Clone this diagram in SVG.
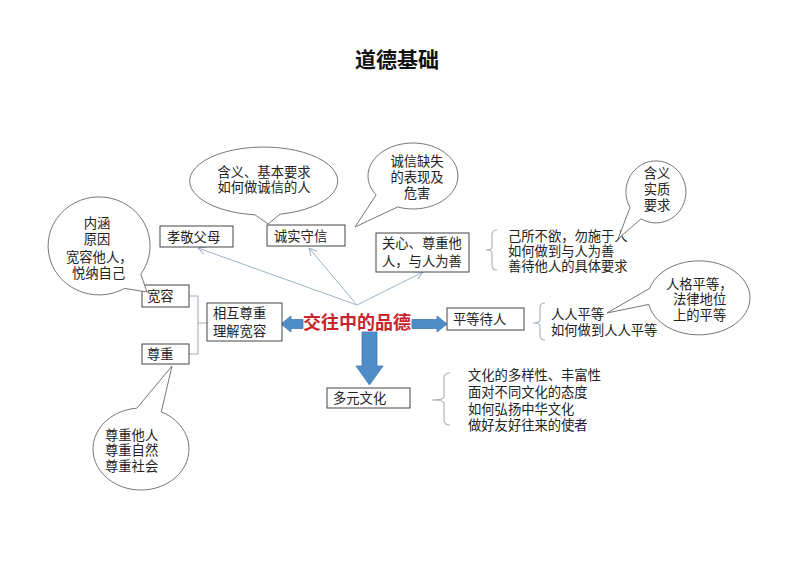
<svg xmlns="http://www.w3.org/2000/svg" width="794" height="561" viewBox="0 0 794 561">
<defs>
<style>
text{font-family:"Liberation Sans","Noto Sans CJK SC",sans-serif;font-size:13.3px;fill:#222}
.title{font-size:21px;font-weight:bold;fill:#111}
.center{font-family:"Liberation Serif","Noto Sans CJK SC",serif;font-size:18px;font-weight:bold;fill:#c8242c}
.box{fill:#fff;stroke:#444;stroke-width:1}
.bubble{fill:#fff;stroke:#777;stroke-width:1}
.thin{fill:none;stroke:#9db3c8;stroke-width:1}
.brace{fill:none;stroke:#a8b0b8;stroke-width:1.1}
.big{fill:#4f8dc9;stroke:#3f7ab5;stroke-width:0.8}
.m{text-anchor:middle}
</style>
<marker id="ah" markerWidth="10" markerHeight="10" refX="8" refY="4" orient="auto" markerUnits="userSpaceOnUse">
<path d="M0,0 L8,4 L0,8" fill="none" stroke="#9db3c8" stroke-width="1"/>
</marker>
</defs>
<rect width="794" height="561" fill="#fff"/>
<text class="title m" x="397" y="67">道德基础</text>

<g id="connectors">
<path class="thin" d="M357,305 L198,248" marker-end="url(#ah)"/>
<path class="thin" d="M357,305 L309,248" marker-end="url(#ah)"/>
<path class="thin" d="M357,305 L423,272" marker-end="url(#ah)"/>
<path class="brace" d="M189,296 H198 V354 H189 M198,323 H207"/>
<polygon class="big" points="281,324 291,316 291,319.5 303,319.5 303,328.5 291,328.5 291,332"/>
<polygon class="big" points="447,324 437,316 437,319.5 412,319.5 412,328.5 437,328.5 437,332"/>
<polygon class="big" points="362,332 377,332 377,366 383,366 369.5,385 356,366 362,366"/>
<path class="brace" d="M497,230 Q492,230 492,235 V247 Q492,250 486,250 Q492,250 492,253 V265 Q492,270 497,270"/>
<path class="brace" d="M545,303 Q540,303 540,308 V320 Q540,323 533,323 Q540,323 540,326 V335 Q540,340 545,340"/>
<path class="brace" d="M450,373 Q444,373 444,378 V397 Q444,400 432,400 Q444,400 444,403 V420 Q444,425 450,425"/>
</g>

<g id="node-center"><text class="center" x="303" y="328.5">交往中的品德</text></g>

<g id="node-xiaojing"><rect class="box" x="160" y="226" width="73" height="21"/><text x="167" y="241.5">孝敬父母</text></g>
<g id="node-chengshi"><rect class="box" x="267" y="225" width="78" height="21"/><text x="274" y="241">诚实守信</text></g>
<g id="node-guanxin"><rect class="box" x="376" y="233" width="93" height="39"/><text x="382" y="248">关心、尊重他</text><text x="382" y="266">人，与人为善</text></g>
<g id="node-kuanrong"><rect class="box" x="142" y="285" width="47" height="22"/><text x="147" y="301">宽容</text></g>
<g id="node-zunzhong"><rect class="box" x="142" y="344" width="47" height="20"/><text x="147" y="359">尊重</text></g>
<g id="node-xianghu"><rect class="box" x="207" y="303" width="75" height="38"/><text x="213" y="318">相互尊重</text><text x="213" y="336">理解宽容</text></g>
<g id="node-pingdeng"><rect class="box" x="447" y="308" width="77" height="22"/><text x="453" y="324">平等待人</text></g>
<g id="node-duoyuan"><rect class="box" x="327" y="388" width="83" height="20"/><text x="333" y="403">多元文化</text></g>

<g id="list-guanxin"><text x="508" y="241">己所不欲，勿施于人</text><text x="508" y="256">如何做到与人为善</text><text x="508" y="271">善待他人的具体要求</text></g>
<g id="list-pingdeng"><text x="551" y="319">人人平等</text><text x="551" y="335">如何做到人人平等</text></g>
<g id="list-duoyuan"><text x="468" y="380">文化的多样性、丰富性</text><text x="468" y="397">面对不同文化的态度</text><text x="468" y="414">如何弘扬中华文化</text><text x="468" y="430">做好友好往来的使者</text></g>

<g id="bubble-neihan"><path class="bubble" d="M140.8,274.1 A51 49 0 1 0 124.5,288.4 L147,292 Z"/><text class="m" x="97" y="228">内涵</text><text class="m" x="97" y="244">原因</text><text x="66" y="262">宽容他人，</text><text x="72" y="278">悦纳自己</text></g>
<g id="bubble-hanyi"><path class="bubble" d="M280,214.2 A74 34 0 1 0 255,214.8 L268,224 Z"/><text class="m" x="264" y="177">含义、基本要求</text><text class="m" x="264" y="192">如何做诚信的人</text></g>
<g id="bubble-queshi"><path class="bubble" d="M397.6,207 A45 33 0 1 0 376.1,194.9 L355,227 Z"/><text class="m" x="417" y="166">诚信缺失</text><text class="m" x="417" y="182">的表现及</text><text class="m" x="417" y="198">危害</text></g>
<g id="bubble-shizhi"><path class="bubble" d="M641,218.8 A30 31 0 1 0 630,207.5 L618,239 Z"/><text class="m" x="657" y="178">含义</text><text class="m" x="657" y="194">实质</text><text class="m" x="657" y="210">要求</text></g>
<g id="bubble-renge"><path class="bubble" d="M648.8,304.4 A51 37 0 1 0 649.7,288.4 L607,313 Z"/><text x="666" y="289">人格平等，</text><text x="673" y="304">法律地位</text><text x="673" y="320">上的平等</text></g>
<g id="bubble-zunzhong"><path class="bubble" d="M136.8,408.2 A48 41 0 1 0 161.3,411.9 L172,366 Z"/><text x="105" y="440">尊重他人</text><text x="105" y="455">尊重自然</text><text x="105" y="471">尊重社会</text></g>
</svg>
